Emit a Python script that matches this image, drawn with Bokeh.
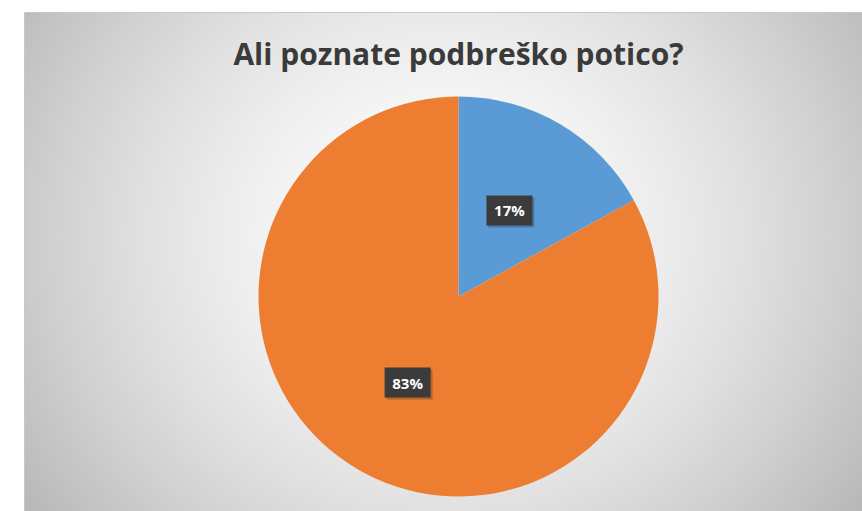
import numpy as np
from bokeh.plotting import figure
from bokeh.models import Range1d
from bokeh.core.properties import value
from bokeh.embed import file_html
from bokeh.resources import INLINE

# ---- data ----
title_text = "Ali poznate podbreško potico?"
categories = ["Da", "Ne"]
percents = [17, 83]
colors = ["#5B9BD5", "#ED7D31"]
labels = ["17%", "83%"]

W, H = 862, 511
p = figure(width=W, height=H, x_range=Range1d(0, W), y_range=Range1d(0, H),
           output_backend="svg", toolbar_location=None, min_border=0,
           background_fill_color="white", border_fill_color="white")
p.outline_line_color = None
p.xaxis.visible = False
p.yaxis.visible = False
p.xgrid.visible = False
p.ygrid.visible = False

# ---- chart area background: radial gray gradient ----
x0, x1, y0, y1 = 24, W, 0, H - 12
nx, ny = x1 - x0, y1 - y0
xx, yy = np.meshgrid(np.arange(nx), np.arange(ny))
cx, cy = nx * 0.5, ny * 0.55
d = np.sqrt(((xx - cx) / (nx * 0.55)) ** 2 + ((yy - cy) / (ny * 0.85)) ** 2)
d = np.clip(d, 0, 1.2)
g = np.clip(255 - 60 * d ** 1.6, 0, 255).astype(np.uint32)
img = (255 << 24) | (g << 16) | (g << 8) | g
p.image_rgba(image=[img], x=x0, y=y0, dw=nx, dh=ny)
p.line([x0, x0, x1], [y0, y1, y1], line_color="#c8c8c8", line_width=1)

# ---- pie ----
cxp, cyp, R = 458, H - 296, 200
total = sum(percents)
start = np.pi / 2
for val, col, lab in zip(percents, colors, labels):
    sweep = 2 * np.pi * val / total
    end = start - sweep
    p.wedge(x=cxp, y=cyp, radius=R, start_angle=end, end_angle=start,
            fill_color=col, line_color=None)
    mid = (start + end) / 2
    lx = cxp + 0.5 * R * np.cos(mid)
    ly = cyp + 0.5 * R * np.sin(mid)
    p.rect(x=lx + 2, y=ly - 2, width=46, height=30, width_units="screen",
           height_units="screen", fill_color="black", fill_alpha=0.22, line_color=None)
    p.rect(x=lx, y=ly, width=46, height=30, width_units="screen",
           height_units="screen", fill_color="#3b3b3b", line_color=None)
    p.text(x=[lx], y=[ly], text=[lab], text_align="center", text_baseline="middle",
           text_color="white", text_font=value("Open Sans"), text_font_style="bold",
           text_font_size="15px")
    start = end

# ---- title ----
p.text(x=[458], y=[H - 53], text=[title_text], text_align="center",
       text_baseline="middle", text_color="#3a3a3a", text_font=value("Open Sans"),
       text_font_style="bold", text_font_size="30px")

open("out.html", "w").write(file_html(p, INLINE))
